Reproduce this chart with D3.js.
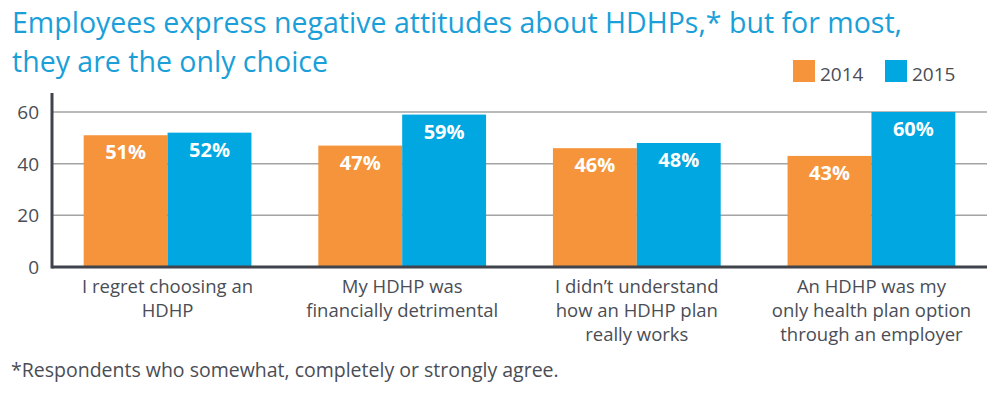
<!DOCTYPE html>
<html>
<head>
<meta charset="utf-8">
<script src="https://cdn.jsdelivr.net/npm/d3@7"></script>
<style>
  body { margin: 0; background: #fff; }
  svg { display: block; font-family: "Open Sans", sans-serif; }
</style>
</head>
<body>
<div id="chart"></div>
<script>
// chart data
var categories = [
    ["I regret choosing an", "HDHP"],
    ["My HDHP was", "financially detrimental"],
    ["I didn\u2019t understand", "how an HDHP plan", "really works"],
    ["An HDHP was my", "only health plan option", "through an employer"]
];
var years = ["2014", "2015"];
var values2014 = [51, 47, 46, 43];
var values2015 = [52, 59, 48, 60];
var yTicks = [0, 20, 40, 60];

var colors = { "2014": "#f5943a", "2015": "#00a7e0" };

var width = 1000, height = 397;
var margin = { top: 96, right: 13, bottom: 130, left: 52 };

var svg = d3.select("#chart").append("svg")
    .attr("width", width)
    .attr("height", height);

// title
var title = svg.append("text")
    .attr("x", 12)
    .attr("fill", "#1a9fd9")
    .attr("font-size", 28.5);
title.append("tspan").attr("x", 12).attr("y", 33)
    .attr("textLength", 890)
    .attr("lengthAdjust", "spacing")
    .text("Employees express negative attitudes about HDHPs,* but for most,");
title.append("tspan").attr("x", 12).attr("y", 72)
    .attr("textLength", 316)
    .attr("lengthAdjust", "spacing")
    .text("they are the only choice");

// scales
var x = d3.scaleBand()
    .domain(d3.range(categories.length))
    .range([margin.left, width - margin.right])
    .paddingInner(0.285)
    .paddingOuter(0.135);

var x1 = d3.scaleBand()
    .domain(years)
    .range([0, x.bandwidth()]);

var y = d3.scaleLinear()
    .domain([0, 60])
    .range([267, 112]);

// gridlines
svg.append("g")
    .selectAll("line")
    .data(yTicks.filter(d => d > 0))
    .enter()
    .append("line")
    .attr("x1", margin.left)
    .attr("x2", width - margin.right)
    .attr("y1", d => y(d))
    .attr("y2", d => y(d))
    .attr("stroke", "#a3a3a3")
    .attr("stroke-width", 1.5);

// y tick labels
svg.append("g")
    .selectAll("text")
    .data(yTicks)
    .enter()
    .append("text")
    .attr("x", 39)
    .attr("y", d => y(d))
    .attr("dy", "0.36em")
    .attr("text-anchor", "end")
    .attr("font-size", 19)
    .attr("fill", "#4a4d55")
    .text(d => d);

// bars
var series = [
    { year: "2014", values: values2014 },
    { year: "2015", values: values2015 }
];

var groups = svg.append("g")
    .selectAll("g")
    .data(series)
    .enter()
    .append("g");

groups.selectAll("rect")
    .data(s => s.values.map((v, i) => ({ year: s.year, i: i, v: v })))
    .enter()
    .append("rect")
    .attr("x", d => x(d.i) + x1(d.year))
    .attr("y", d => y(d.v))
    .attr("width", x1.bandwidth())
    .attr("height", d => y(0) - y(d.v))
    .attr("fill", d => colors[d.year]);

groups.selectAll("text")
    .data(s => s.values.map((v, i) => ({ year: s.year, i: i, v: v })))
    .enter()
    .append("text")
    .attr("x", d => x(d.i) + x1(d.year) + x1.bandwidth() / 2)
    .attr("y", d => y(d.v) + 24)
    .attr("text-anchor", "middle")
    .attr("font-size", 20)
    .attr("font-weight", "bold")
    .attr("fill", "#fff")
    .text(d => d.v + "%");

// axes lines
svg.append("line")
    .attr("x1", margin.left)
    .attr("x2", width - margin.right)
    .attr("y1", y(0))
    .attr("y2", y(0))
    .attr("stroke", "#3f434b")
    .attr("stroke-width", 3);
svg.append("line")
    .attr("x1", margin.left)
    .attr("x2", margin.left)
    .attr("y1", 93)
    .attr("y2", y(0) + 1.5)
    .attr("stroke", "#3f434b")
    .attr("stroke-width", 3);

// category labels
svg.append("g")
    .selectAll("text")
    .data(categories)
    .enter()
    .append("text")
    .attr("text-anchor", "middle")
    .attr("font-size", 18.5)
    .attr("fill", "#4a4d55")
    .each(function(lines, i) {
        var t = d3.select(this);
        lines.forEach(function(line, j) {
            t.append("tspan")
                .attr("x", x(i) + x.bandwidth() / 2)
                .attr("y", 293 + j * 24)
                .text(line);
        });
    });

// legend
var legend = svg.append("g")
    .selectAll("g")
    .data(years)
    .enter()
    .append("g")
    .attr("transform", (d, i) => "translate(" + (793 + i * 92) + ",60)");
legend.append("rect")
    .attr("width", 22)
    .attr("height", 22)
    .attr("fill", d => colors[d]);
legend.append("text")
    .attr("x", 27)
    .attr("y", 21)
    .attr("font-size", 19)
    .attr("fill", "#4a4d55")
    .text(d => d);

// footnote
svg.append("text")
    .attr("x", 11)
    .attr("y", 377)
    .attr("font-size", 19.5)
    .attr("fill", "#4a4d55")
    .text("*Respondents who somewhat, completely or strongly agree.");
</script>
</body>
</html>
